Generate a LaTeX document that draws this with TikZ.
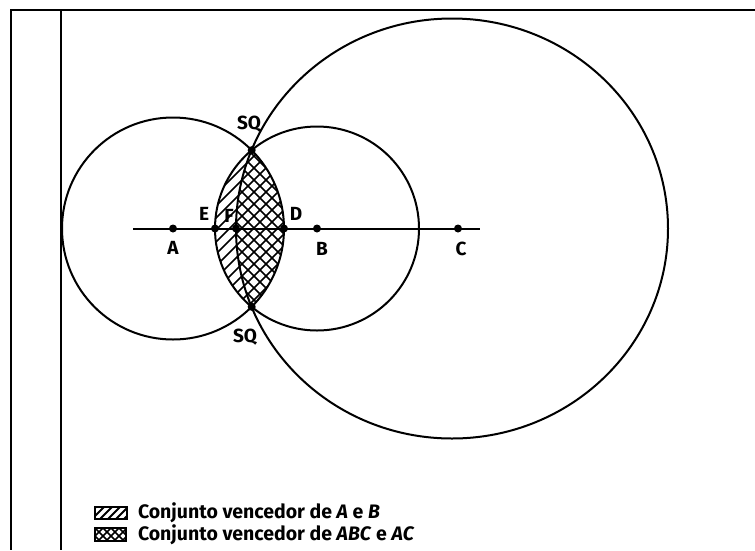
\documentclass[tikz,border=0pt]{standalone}
\usepackage{fontspec}
\setmainfont{Fira Sans}
\begin{document}
\begin{tikzpicture}[x=1pt,y=-1pt,line width=2pt,
  dot/.style={circle,fill=black,inner sep=0pt,minimum size=8pt},
  lbl/.style={font=\fontsize{19}{19}\selectfont\bfseries,inner sep=0pt},
  hatch/.style={line width=1.7pt},
  legtxt/.style={font=\fontsize{19.5}{19.5}\selectfont\bfseries,inner sep=0pt,anchor=west}]
\useasboundingbox (0,0) rectangle (755,550);
% frame
\coordinate (TL) at (11,10);
\coordinate (TR) at (755,10);
\coordinate (BL) at (11,550);
\coordinate (T2) at (61,10);
\coordinate (B2) at (61,550);
\draw[line width=2.6pt] (TR) -- (TL) -- (BL);
\draw[line width=2.4pt] (T2) -- (B2);
% points
\coordinate (Cc) at (452,228.5);
\coordinate (L0) at (133,228.5);
\coordinate (L1) at (480,228.5);
\draw (L0) -- (L1);
\node[dot] (A) at (173,228.5) {};
\node[dot] (B) at (317,228.5) {};
\node[dot] (C) at (458,228.5) {};
\node[dot] (E) at (215,228.5) {};
\node[dot] (F) at (236,228.5) {};
\node[dot] (D) at (284,228.5) {};
\node[dot] (S1) at (251.7,150.2) {};
\node[dot] (S2) at (251.7,306.8) {};
% hatching
\begin{scope}
\clip (A) circle[radius=111];
\clip (B) circle[radius=102];
\foreach \k in {350,362,...,620} \draw[hatch] (\k-100,100) -- (\k-400,400);
\clip (Cc) ellipse[x radius=216,y radius=210];
\foreach \k in {-94,-82,...,160} \draw[hatch] (\k+100,100) -- (\k+400,400);
\end{scope}
% circles
\draw (A) circle[radius=111];
\draw (B) circle[radius=102];
\draw (Cc) ellipse[x radius=216,y radius=210];
% labels
\node[lbl] (lA) at (173,248) {A};
\node[lbl] (lB) at (322,249) {B};
\node[lbl] (lC) at (461,249) {C};
\node[lbl] (lE) at (204,214) {E};
\node[lbl] (lF) at (229,216) {F};
\node[lbl] (lD) at (296,214) {D};
\node[lbl] (lS1) at (249,124) {SQ};
\node[lbl] (lS2) at (245,337) {SQ};
% legend
\begin{scope}
\clip (95,507) rectangle (127,519);
\foreach \k in {595,603,...,660} \draw[line width=1.8pt] (\k-500,500) -- (\k-550,550);
\end{scope}
\draw[line width=2.4pt] (95,507) rectangle (127,519);
\begin{scope}
\clip (95,528) rectangle (126,541);
\foreach \k in {615,623,...,680} \draw[line width=1.6pt] (\k-500,500) -- (\k-550,550);
\foreach \k in {-457,-449,...,-390} \draw[line width=1.6pt] (\k+500,500) -- (\k+550,550);
\end{scope}
\draw[line width=2.4pt] (95,528) rectangle (126,541);
\node[legtxt] (t1) at (137,513) {Conjunto vencedor de \textit{A} e \textit{B}};
\node[legtxt] (t2) at (137,535) {Conjunto vencedor de \textit{ABC} e \textit{AC}};
\end{tikzpicture}
\end{document}
